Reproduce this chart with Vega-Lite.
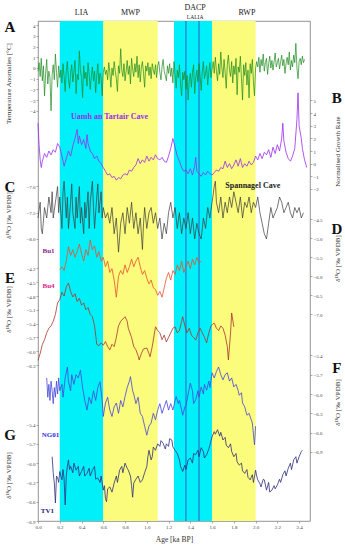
{
"$schema": "https://vega.github.io/schema/vega-lite/v6.json",
"width": 272, "height": 500,
"autosize": "none",
"padding": {"left": 38, "top": 21, "right": 35, "bottom": 29},
"background": "white",
"config": {
 "view": {"stroke": "#777", "strokeWidth": 0.8},
 "axis": {"labelFont": "Liberation Serif", "labelFontSize": 5, "labelColor": "#444", "tickSize": 2, "tickColor": "#777", "tickWidth": 0.6, "domain": false, "grid": false, "titleFont": "Liberation Serif", "titleFontSize": 7, "titleFontWeight": "normal", "titleColor": "#333", "labelPadding": 1, "labelOverlap": false, "labelFlush": false}
},
"datasets": {
 "bands": [{"age": 0.2, "end": 0.6, "c": "#00f0fa"}, {"age": 0.6, "end": 1.1, "c": "#fbfb7c"}, {"age": 1.25, "end": 1.6, "c": "#00f0fa"}, {"age": 1.6, "end": 2.0, "c": "#fbfb7c"}],
 "lalia": [{"age": 1.36}, {"age": 1.48}],
 "headers": [{"age": 0.4, "v": 5.14, "t": "LIA"}, {"age": 0.85, "v": 5.14, "t": "MWP"}, {"age": 1.444, "v": 5.65, "t": "DACP"}, {"age": 1.92, "v": 5.14, "t": "RWP"}],
 "headers2": [{"age": 1.444, "v": 4.77, "t": "LALIA"}],
 "A": [
{"age":0.00,"v":-0.3},{"age":0.01,"v":0.5},{"age":0.02,"v":-0.8},{"age":0.03,"v":0.9},{"age":0.04,"v":-1.2},{"age":0.05,"v":0.2},{"age":0.06,"v":-2.6},{"age":0.07,"v":-0.5},{"age":0.08,"v":0.8},{"age":0.09,"v":-1.5},{"age":0.10,"v":-0.3},{"age":0.11,"v":-0.9},{"age":0.12,"v":-4.0},{"age":0.13,"v":-0.6},{"age":0.14,"v":0.3},{"age":0.15,"v":-1.1},{"age":0.16,"v":1.3},{"age":0.17,"v":-0.4},{"age":0.18,"v":-1.8},{"age":0.19,"v":0.2},{"age":0.20,"v":-0.9},
{"age":0.21,"v":-0.2},{"age":0.22,"v":-1.4},{"age":0.23,"v":0.4},{"age":0.24,"v":-0.8},{"age":0.25,"v":-2.2},{"age":0.26,"v":-0.3},{"age":0.27,"v":0.6},{"age":0.28,"v":-1.0},{"age":0.29,"v":-1.9},{"age":0.30,"v":-0.5},{"age":0.31,"v":0.3},{"age":0.32,"v":-1.3},{"age":0.33,"v":-0.4},{"age":0.34,"v":0.7},{"age":0.35,"v":-2.4},{"age":0.36,"v":-0.6},{"age":0.37,"v":-1.1},{"age":0.38,"v":1.6},{"age":0.39,"v":-0.2},{"age":0.40,"v":-0.9},
{"age":0.41,"v":-2.8},{"age":0.42,"v":0.2},{"age":0.43,"v":-1.0},{"age":0.44,"v":-0.4},{"age":0.45,"v":-1.7},{"age":0.46,"v":0.5},{"age":0.47,"v":-0.6},{"age":0.48,"v":-2.0},{"age":0.49,"v":-0.8},{"age":0.50,"v":0.1},{"age":0.51,"v":-1.2},{"age":0.52,"v":-0.3},{"age":0.53,"v":-2.3},{"age":0.54,"v":-0.7},{"age":0.55,"v":0.4},{"age":0.56,"v":-1.5},{"age":0.57,"v":-0.5},{"age":0.58,"v":-0.9},{"age":0.59,"v":-2.6},{"age":0.60,"v":-0.4},
{"age":0.61,"v":0.1},{"age":0.62,"v":-0.6},{"age":0.63,"v":-0.2},{"age":0.64,"v":-1.1},{"age":0.65,"v":0.5},{"age":0.66,"v":-0.4},{"age":0.67,"v":-1.8},{"age":0.68,"v":0.0},{"age":0.69,"v":-0.7},{"age":0.70,"v":0.6},{"age":0.71,"v":-0.3},{"age":0.72,"v":-1.0},{"age":0.73,"v":-2.2},{"age":0.74,"v":0.2},{"age":0.75,"v":-0.5},{"age":0.76,"v":1.8},{"age":0.77,"v":-0.2},{"age":0.78,"v":-0.8},{"age":0.79,"v":0.4},{"age":0.80,"v":-1.2},
{"age":0.81,"v":-0.3},{"age":0.82,"v":0.7},{"age":0.83,"v":-0.6},{"age":0.84,"v":0.2},{"age":0.85,"v":-1.5},{"age":0.86,"v":0.9},{"age":0.87,"v":-0.1},{"age":0.88,"v":-0.8},{"age":0.89,"v":0.4},{"age":0.90,"v":-0.4},{"age":0.91,"v":1.1},{"age":0.92,"v":-0.9},{"age":0.93,"v":0.3},{"age":0.94,"v":-1.3},{"age":0.95,"v":0.1},{"age":0.96,"v":0.6},{"age":0.97,"v":-0.5},{"age":0.98,"v":-1.8},{"age":0.99,"v":0.2},{"age":1.00,"v":-0.3},
{"age":1.01,"v":0.5},{"age":1.02,"v":-0.7},{"age":1.03,"v":0.1},{"age":1.04,"v":-1.0},{"age":1.05,"v":0.4},{"age":1.06,"v":-0.2},{"age":1.07,"v":-0.6},{"age":1.08,"v":0.3},{"age":1.09,"v":-0.9},{"age":1.10,"v":0.2},{"age":1.11,"v":0.6},{"age":1.12,"v":-0.4},{"age":1.13,"v":-1.1},{"age":1.14,"v":0.1},{"age":1.15,"v":0.8},{"age":1.16,"v":-0.3},{"age":1.17,"v":-0.7},{"age":1.18,"v":-1.2},{"age":1.19,"v":0.2},{"age":1.20,"v":-0.5},
{"age":1.21,"v":0.4},{"age":1.22,"v":-0.8},{"age":1.23,"v":0.0},{"age":1.24,"v":-1.4},{"age":1.25,"v":0.6},{"age":1.26,"v":-0.6},{"age":1.27,"v":-1.9},{"age":1.28,"v":-0.2},{"age":1.29,"v":-0.9},{"age":1.30,"v":0.3},{"age":1.31,"v":-1.5},{"age":1.32,"v":-2.6},{"age":1.33,"v":-0.4},{"age":1.34,"v":-1.1},{"age":1.35,"v":-0.3},{"age":1.36,"v":-2.0},{"age":1.37,"v":-0.7},{"age":1.38,"v":-3.0},{"age":1.39,"v":-1.2},{"age":1.40,"v":-0.5},
{"age":1.41,"v":-1.8},{"age":1.42,"v":-0.4},{"age":1.43,"v":0.3},{"age":1.44,"v":-2.4},{"age":1.45,"v":-0.9},{"age":1.46,"v":-0.2},{"age":1.47,"v":-1.3},{"age":1.48,"v":0.4},{"age":1.49,"v":-0.8},{"age":1.50,"v":-2.1},{"age":1.51,"v":-0.3},{"age":1.52,"v":0.6},{"age":1.53,"v":-1.0},{"age":1.54,"v":-0.5},{"age":1.55,"v":0.2},{"age":1.56,"v":-1.6},{"age":1.57,"v":-0.4},{"age":1.58,"v":0.5},{"age":1.59,"v":-0.9},{"age":1.60,"v":-0.1},
{"age":1.61,"v":0.6},{"age":1.62,"v":-0.5},{"age":1.63,"v":1.0},{"age":1.64,"v":-0.3},{"age":1.65,"v":-1.2},{"age":1.66,"v":0.4},{"age":1.67,"v":-0.6},{"age":1.68,"v":1.5},{"age":1.69,"v":0.0},{"age":1.70,"v":-0.9},{"age":1.71,"v":0.8},{"age":1.72,"v":-0.4},{"age":1.73,"v":-1.9},{"age":1.74,"v":0.3},{"age":1.75,"v":1.2},{"age":1.76,"v":-0.2},{"age":1.77,"v":-0.8},{"age":1.78,"v":0.6},{"age":1.79,"v":-1.4},{"age":1.80,"v":0.2},
{"age":1.81,"v":-0.6},{"age":1.82,"v":0.9},{"age":1.83,"v":-2.5},{"age":1.84,"v":0.1},{"age":1.85,"v":-0.4},{"age":1.86,"v":1.1},{"age":1.87,"v":-1.0},{"age":1.88,"v":-3.0},{"age":1.89,"v":0.3},{"age":1.90,"v":-0.7},{"age":1.91,"v":0.5},{"age":1.92,"v":-1.6},{"age":1.93,"v":-0.2},{"age":1.94,"v":-2.8},{"age":1.95,"v":0.4},{"age":1.96,"v":-0.5},{"age":1.97,"v":0.8},{"age":1.98,"v":-1.3},{"age":1.99,"v":-2.6},{"age":2.00,"v":0.0},
{"age":2.01,"v":0.6},{"age":2.02,"v":0.1},{"age":2.03,"v":1.0},{"age":2.04,"v":-0.4},{"age":2.05,"v":0.8},{"age":2.06,"v":0.2},{"age":2.07,"v":1.3},{"age":2.08,"v":-0.3},{"age":2.09,"v":0.5},{"age":2.10,"v":0.9},{"age":2.11,"v":-0.6},{"age":2.12,"v":0.4},{"age":2.13,"v":1.1},{"age":2.14,"v":0.0},{"age":2.15,"v":0.7},{"age":2.16,"v":-0.2},{"age":2.17,"v":0.6},{"age":2.18,"v":1.4},{"age":2.19,"v":0.1},{"age":2.20,"v":0.5},
{"age":2.21,"v":0.9},{"age":2.22,"v":-0.1},{"age":2.23,"v":0.6},{"age":2.24,"v":1.2},{"age":2.25,"v":0.2},{"age":2.26,"v":0.8},{"age":2.27,"v":-0.5},{"age":2.28,"v":0.4},{"age":2.29,"v":1.0},{"age":2.30,"v":0.3},{"age":2.31,"v":1.5},{"age":2.32,"v":-0.2},{"age":2.33,"v":0.7},{"age":2.34,"v":0.1},{"age":2.35,"v":1.2},{"age":2.36,"v":0.5},{"age":2.37,"v":2.3},{"age":2.38,"v":0.0},{"age":2.39,"v":-1.0},{"age":2.40,"v":0.6},
{"age":2.41,"v":0.9},{"age":2.42,"v":0.3},{"age":2.43,"v":1.1},{"age":2.44,"v":0.5},{"age":2.45,"v":0.8}
 ],
 "B": [
{"age":0.00,"v":3.2},{"age":0.01,"v":1.5},{"age":0.02,"v":0.3},{"age":0.03,"v":-0.3},{"age":0.04,"v":0.2},{"age":0.06,"v":0.8},{"age":0.08,"v":0.5},{"age":0.10,"v":1.0},{"age":0.12,"v":0.7},{"age":0.14,"v":1.1},{"age":0.16,"v":0.9},{"age":0.18,"v":1.6},{"age":0.20,"v":1.3},{"age":0.22,"v":0.6},{"age":0.24,"v":-0.2},{"age":0.26,"v":0.4},{"age":0.28,"v":1.0},{"age":0.30,"v":0.6},{"age":0.32,"v":1.4},{"age":0.34,"v":2.0},{"age":0.36,"v":2.7},{"age":0.37,"v":1.6},{"age":0.38,"v":2.2},{"age":0.40,"v":1.5},{"age":0.42,"v":1.9},{"age":0.44,"v":1.2},{"age":0.45,"v":2.3},{"age":0.46,"v":1.6},{"age":0.48,"v":1.0},{"age":0.50,"v":0.8},{"age":0.52,"v":0.4},{"age":0.54,"v":0.6},{"age":0.56,"v":0.2},{"age":0.58,"v":0.0},{"age":0.60,"v":-0.3},{"age":0.62,"v":-0.6},{"age":0.64,"v":-0.9},{"age":0.66,"v":-0.8},{"age":0.68,"v":-1.1},{"age":0.70,"v":-1.0},{"age":0.72,"v":-1.3},{"age":0.74,"v":-1.1},{"age":0.76,"v":-1.2},{"age":0.78,"v":-0.9},{"age":0.80,"v":-0.8},{"age":0.82,"v":-0.9},{"age":0.84,"v":-0.5},{"age":0.86,"v":-0.6},{"age":0.88,"v":-0.3},{"age":0.90,"v":-0.1},{"age":0.92,"v":0.4},{"age":0.94,"v":0.0},{"age":0.96,"v":0.3},{"age":0.98,"v":0.1},{"age":1.00,"v":0.6},{"age":1.02,"v":0.2},{"age":1.04,"v":0.5},{"age":1.06,"v":0.3},{"age":1.08,"v":0.7},{"age":1.10,"v":0.4},{"age":1.12,"v":0.3},{"age":1.14,"v":0.5},{"age":1.16,"v":0.2},{"age":1.18,"v":0.1},{"age":1.20,"v":0.6},{"age":1.22,"v":1.2},{"age":1.24,"v":2.0},{"age":1.26,"v":1.3},{"age":1.28,"v":0.6},{"age":1.30,"v":0.2},{"age":1.32,"v":-0.3},{"age":1.34,"v":-0.6},{"age":1.36,"v":-0.5},{"age":1.38,"v":-0.8},{"age":1.40,"v":-0.4},{"age":1.42,"v":-0.9},{"age":1.44,"v":-0.2},{"age":1.45,"v":0.5},{"age":1.46,"v":-0.6},{"age":1.48,"v":-0.8},{"age":1.50,"v":-1.0},{"age":1.52,"v":-0.7},{"age":1.54,"v":-0.9},{"age":1.56,"v":-0.6},{"age":1.58,"v":-0.8},{"age":1.60,"v":-0.9},{"age":1.62,"v":-0.7},{"age":1.64,"v":-0.5},{"age":1.66,"v":-0.6},{"age":1.68,"v":-0.3},{"age":1.70,"v":-0.4},{"age":1.72,"v":0.2},{"age":1.74,"v":-0.3},{"age":1.76,"v":0.0},{"age":1.78,"v":-0.4},{"age":1.80,"v":-0.1},{"age":1.82,"v":0.3},{"age":1.84,"v":-0.2},{"age":1.86,"v":0.4},{"age":1.88,"v":-0.3},{"age":1.90,"v":0.0},{"age":1.92,"v":-0.2},{"age":1.94,"v":0.2},{"age":1.96,"v":-0.1},{"age":1.98,"v":0.1},{"age":2.00,"v":0.6},{"age":2.02,"v":0.3},{"age":2.04,"v":0.8},{"age":2.06,"v":0.4},{"age":2.08,"v":0.9},{"age":2.10,"v":0.7},{"age":2.12,"v":1.1},{"age":2.14,"v":0.5},{"age":2.16,"v":1.3},{"age":2.18,"v":0.8},{"age":2.20,"v":1.5},{"age":2.22,"v":1.0},{"age":2.24,"v":2.0},{"age":2.25,"v":3.2},{"age":2.26,"v":1.8},{"age":2.28,"v":0.9},{"age":2.30,"v":0.4},{"age":2.32,"v":0.2},{"age":2.34,"v":0.6},{"age":2.36,"v":1.2},{"age":2.38,"v":3.5},{"age":2.39,"v":5.6},{"age":2.40,"v":3.0},{"age":2.42,"v":2.0},{"age":2.43,"v":1.2},{"age":2.45,"v":0.3},{"age":2.47,"v":-0.3}
 ],
 "C": [
{"age":0.00,"v":-7.6},{"age":0.02,"v":-7.3},{"age":0.03,"v":-7.8},{"age":0.04,"v":-7.9},{"age":0.06,"v":-7.4},{"age":0.08,"v":-7.6},{"age":0.10,"v":-7.2},{"age":0.12,"v":-7.5},{"age":0.13,"v":-7.1},{"age":0.14,"v":-7.6},{"age":0.16,"v":-7.3},{"age":0.18,"v":-7.0},{"age":0.19,"v":-7.5},{"age":0.20,"v":-7.2},{"age":0.22,"v":-7.8},{"age":0.23,"v":-7.1},{"age":0.24,"v":-6.9},{"age":0.26,"v":-7.6},{"age":0.27,"v":-7.2},{"age":0.28,"v":-7.8},{"age":0.30,"v":-7.3},{"age":0.31,"v":-6.95},{"age":0.32,"v":-7.5},{"age":0.34,"v":-7.8},{"age":0.35,"v":-7.2},{"age":0.36,"v":-7.6},{"age":0.38,"v":-7.0},{"age":0.39,"v":-7.7},{"age":0.40,"v":-7.4},{"age":0.42,"v":-7.9},{"age":0.43,"v":-7.3},{"age":0.44,"v":-7.6},{"age":0.46,"v":-7.1},{"age":0.47,"v":-7.8},{"age":0.48,"v":-7.3},{"age":0.50,"v":-6.9},{"age":0.51,"v":-7.4},{"age":0.52,"v":-7.8},{"age":0.54,"v":-7.2},{"age":0.55,"v":-6.95},{"age":0.56,"v":-7.5},{"age":0.58,"v":-7.1},{"age":0.59,"v":-7.6},{"age":0.60,"v":-7.4},{"age":0.62,"v":-7.6},{"age":0.64,"v":-7.5},{"age":0.66,"v":-7.7},{"age":0.68,"v":-7.4},{"age":0.70,"v":-7.9},{"age":0.72,"v":-7.6},{"age":0.74,"v":-8.25},{"age":0.76,"v":-7.7},{"age":0.78,"v":-7.5},{"age":0.80,"v":-7.9},{"age":0.82,"v":-7.4},{"age":0.84,"v":-7.7},{"age":0.86,"v":-7.3},{"age":0.88,"v":-7.8},{"age":0.90,"v":-7.5},{"age":0.92,"v":-7.9},{"age":0.94,"v":-7.6},{"age":0.96,"v":-8.2},{"age":0.97,"v":-7.7},{"age":0.98,"v":-7.4},{"age":1.00,"v":-7.8},{"age":1.02,"v":-7.5},{"age":1.04,"v":-7.4},{"age":1.06,"v":-7.7},{"age":1.08,"v":-7.5},{"age":1.10,"v":-7.8},{"age":1.12,"v":-7.6},{"age":1.14,"v":-8.0},{"age":1.16,"v":-7.7},{"age":1.18,"v":-7.9},{"age":1.20,"v":-7.5},{"age":1.22,"v":-7.3},{"age":1.24,"v":-7.6},{"age":1.26,"v":-7.4},{"age":1.28,"v":-7.8},{"age":1.30,"v":-7.5},{"age":1.32,"v":-7.9},{"age":1.34,"v":-7.6},{"age":1.36,"v":-7.8},{"age":1.38,"v":-7.5},{"age":1.40,"v":-7.9},{"age":1.42,"v":-7.6},{"age":1.44,"v":-8.0},{"age":1.46,"v":-7.7},{"age":1.48,"v":-7.9},{"age":1.50,"v":-8.0},{"age":1.52,"v":-7.6},{"age":1.54,"v":-7.8},{"age":1.56,"v":-7.4},{"age":1.58,"v":-7.6},{"age":1.60,"v":-7.3},{"age":1.62,"v":-7.0},{"age":1.63,"v":-6.9},{"age":1.64,"v":-7.3},{"age":1.66,"v":-7.5},{"age":1.68,"v":-7.2},{"age":1.70,"v":-7.6},{"age":1.72,"v":-7.3},{"age":1.74,"v":-7.5},{"age":1.76,"v":-7.2},{"age":1.78,"v":-7.4},{"age":1.80,"v":-7.1},{"age":1.82,"v":-7.3},{"age":1.84,"v":-7.5},{"age":1.86,"v":-7.2},{"age":1.88,"v":-7.6},{"age":1.90,"v":-7.3},{"age":1.92,"v":-7.4},{"age":1.94,"v":-7.2},{"age":1.96,"v":-7.5},{"age":1.98,"v":-7.3},{"age":2.00,"v":-7.4},{"age":2.02,"v":-7.2},{"age":2.04,"v":-7.5},{"age":2.06,"v":-7.7},{"age":2.08,"v":-7.9},{"age":2.10,"v":-8.0},{"age":2.12,"v":-7.7},{"age":2.14,"v":-7.4},{"age":2.16,"v":-7.6},{"age":2.18,"v":-7.5},{"age":2.20,"v":-7.4},{"age":2.22,"v":-7.2},{"age":2.24,"v":-7.3},{"age":2.26,"v":-7.5},{"age":2.28,"v":-7.4},{"age":2.30,"v":-7.3},{"age":2.32,"v":-7.5},{"age":2.34,"v":-7.6},{"age":2.36,"v":-7.4},{"age":2.38,"v":-7.5},{"age":2.40,"v":-7.4},{"age":2.42,"v":-7.6},{"age":2.44,"v":-7.5}
 ],
 "D": [
{"age":0.20,"v":-5.83},{"age":0.22,"v":-5.75},{"age":0.24,"v":-5.85},{"age":0.26,"v":-5.6},{"age":0.28,"v":-5.22},{"age":0.30,"v":-5.45},{"age":0.32,"v":-5.3},{"age":0.34,"v":-5.5},{"age":0.36,"v":-5.35},{"age":0.38,"v":-5.15},{"age":0.40,"v":-5.4},{"age":0.42,"v":-5.6},{"age":0.44,"v":-5.3},{"age":0.46,"v":-5.45},{"age":0.48,"v":-5.05},{"age":0.50,"v":-5.3},{"age":0.52,"v":-5.2},{"age":0.54,"v":-5.5},{"age":0.56,"v":-5.35},{"age":0.58,"v":-5.6},{"age":0.60,"v":-5.5},{"age":0.62,"v":-5.75},{"age":0.64,"v":-5.6},{"age":0.66,"v":-5.9},{"age":0.68,"v":-5.8},{"age":0.70,"v":-6.1},{"age":0.72,"v":-6.55},{"age":0.74,"v":-6.0},{"age":0.76,"v":-5.85},{"age":0.78,"v":-5.95},{"age":0.80,"v":-5.7},{"age":0.82,"v":-5.9},{"age":0.84,"v":-5.75},{"age":0.86,"v":-5.55},{"age":0.88,"v":-5.75},{"age":0.90,"v":-5.6},{"age":0.92,"v":-5.5},{"age":0.94,"v":-5.75},{"age":0.96,"v":-5.95},{"age":0.98,"v":-5.85},{"age":1.00,"v":-6.05},{"age":1.02,"v":-6.2},{"age":1.04,"v":-6.1},{"age":1.06,"v":-6.3},{"age":1.08,"v":-6.35},{"age":1.10,"v":-6.5},{"age":1.12,"v":-6.4},{"age":1.14,"v":-6.55},{"age":1.16,"v":-6.3},{"age":1.18,"v":-6.05},{"age":1.20,"v":-5.9},{"age":1.22,"v":-6.1},{"age":1.24,"v":-5.85},{"age":1.26,"v":-5.95},{"age":1.28,"v":-5.7},{"age":1.30,"v":-5.85},{"age":1.32,"v":-5.6},{"age":1.34,"v":-5.9},{"age":1.36,"v":-5.75},{"age":1.38,"v":-5.6},{"age":1.40,"v":-5.8},{"age":1.42,"v":-5.55},{"age":1.44,"v":-5.7},{"age":1.46,"v":-5.5},{"age":1.48,"v":-5.65},{"age":1.50,"v":-5.6}
 ],
 "E": [
{"age":0.00,"v":-6.2},{"age":0.02,"v":-6.05},{"age":0.04,"v":-5.85},{"age":0.06,"v":-5.75},{"age":0.08,"v":-5.6},{"age":0.10,"v":-5.5},{"age":0.12,"v":-5.45},{"age":0.14,"v":-5.35},{"age":0.16,"v":-5.2},{"age":0.18,"v":-4.95},{"age":0.20,"v":-4.88},{"age":0.22,"v":-4.72},{"age":0.24,"v":-4.8},{"age":0.26,"v":-4.6},{"age":0.28,"v":-4.52},{"age":0.30,"v":-4.7},{"age":0.32,"v":-4.82},{"age":0.34,"v":-4.75},{"age":0.36,"v":-4.92},{"age":0.38,"v":-4.85},{"age":0.40,"v":-5.0},{"age":0.42,"v":-4.95},{"age":0.44,"v":-5.1},{"age":0.46,"v":-5.05},{"age":0.48,"v":-5.2},{"age":0.50,"v":-5.25},{"age":0.52,"v":-5.45},{"age":0.54,"v":-5.85},{"age":0.56,"v":-5.88},{"age":0.58,"v":-5.82},{"age":0.60,"v":-5.87},{"age":0.62,"v":-5.79},{"age":0.64,"v":-5.9},{"age":0.66,"v":-5.97},{"age":0.68,"v":-5.85},{"age":0.70,"v":-5.9},{"age":0.72,"v":-5.7},{"age":0.74,"v":-5.45},{"age":0.76,"v":-5.35},{"age":0.78,"v":-5.3},{"age":0.80,"v":-5.25},{"age":0.82,"v":-5.35},{"age":0.83,"v":-5.5},{"age":0.86,"v":-5.7},{"age":0.88,"v":-5.9},{"age":0.90,"v":-5.97},{"age":0.92,"v":-6.1},{"age":0.93,"v":-6.19},{"age":0.95,"v":-6.05},{"age":0.97,"v":-5.95},{"age":1.00,"v":-5.93},{"age":1.02,"v":-6.05},{"age":1.03,"v":-6.12},{"age":1.05,"v":-5.9},{"age":1.08,"v":-5.47},{"age":1.10,"v":-5.55},{"age":1.12,"v":-5.6},{"age":1.14,"v":-5.75},{"age":1.16,"v":-5.65},{"age":1.18,"v":-5.8},{"age":1.20,"v":-5.7},{"age":1.22,"v":-5.6},{"age":1.24,"v":-5.5},{"age":1.26,"v":-5.47},{"age":1.28,"v":-5.6},{"age":1.30,"v":-5.55},{"age":1.32,"v":-5.35},{"age":1.33,"v":-5.25},{"age":1.35,"v":-5.45},{"age":1.37,"v":-5.6},{"age":1.39,"v":-5.5},{"age":1.41,"v":-5.65},{"age":1.43,"v":-5.7},{"age":1.45,"v":-5.76},{"age":1.47,"v":-5.6},{"age":1.49,"v":-5.5},{"age":1.51,"v":-5.6},{"age":1.53,"v":-5.7},{"age":1.55,"v":-5.82},{"age":1.57,"v":-5.6},{"age":1.59,"v":-5.45},{"age":1.61,"v":-5.4},{"age":1.62,"v":-5.39},{"age":1.64,"v":-5.5},{"age":1.66,"v":-5.55},{"age":1.68,"v":-5.45},{"age":1.70,"v":-5.5},{"age":1.72,"v":-5.65},{"age":1.74,"v":-5.9},{"age":1.75,"v":-6.19},{"age":1.77,"v":-5.6},{"age":1.78,"v":-5.17},{"age":1.80,"v":-5.47}
 ],
 "F": [
{"age":0.08,"v":-5.75},{"age":0.09,"v":-6.05},{"age":0.10,"v":-5.85},{"age":0.11,"v":-6.1},{"age":0.12,"v":-5.8},{"age":0.13,"v":-5.95},{"age":0.14,"v":-6.15},{"age":0.15,"v":-5.9},{"age":0.16,"v":-6.05},{"age":0.17,"v":-5.8},{"age":0.18,"v":-6.0},{"age":0.19,"v":-5.75},{"age":0.20,"v":-5.95},{"age":0.22,"v":-5.85},{"age":0.23,"v":-6.05},{"age":0.25,"v":-5.75},{"age":0.27,"v":-5.58},{"age":0.28,"v":-5.8},{"age":0.30,"v":-5.95},{"age":0.31,"v":-5.7},{"age":0.33,"v":-5.85},{"age":0.35,"v":-5.7},{"age":0.37,"v":-5.75},{"age":0.39,"v":-5.63},{"age":0.41,"v":-5.9},{"age":0.43,"v":-6.1},{"age":0.45,"v":-6.25},{"age":0.47,"v":-6.05},{"age":0.49,"v":-6.15},{"age":0.51,"v":-5.95},{"age":0.53,"v":-6.1},{"age":0.55,"v":-5.9},{"age":0.57,"v":-5.81},{"age":0.59,"v":-6.1},{"age":0.60,"v":-6.35},{"age":0.62,"v":-6.14},{"age":0.64,"v":-6.05},{"age":0.66,"v":-6.25},{"age":0.68,"v":-6.35},{"age":0.70,"v":-6.2},{"age":0.72,"v":-6.14},{"age":0.74,"v":-6.3},{"age":0.76,"v":-6.1},{"age":0.78,"v":-6.2},{"age":0.80,"v":-6.04},{"age":0.82,"v":-5.9},{"age":0.84,"v":-5.8},{"age":0.85,"v":-5.73},{"age":0.87,"v":-5.95},{"age":0.88,"v":-6.0},{"age":0.90,"v":-6.15},{"age":0.92,"v":-6.05},{"age":0.94,"v":-6.3},{"age":0.96,"v":-6.35},{"age":0.98,"v":-6.5},{"age":1.00,"v":-6.64},{"age":1.02,"v":-6.5},{"age":1.04,"v":-6.45},{"age":1.06,"v":-6.3},{"age":1.08,"v":-6.4},{"age":1.10,"v":-6.25},{"age":1.12,"v":-6.15},{"age":1.14,"v":-6.3},{"age":1.16,"v":-6.2},{"age":1.18,"v":-6.1},{"age":1.20,"v":-6.25},{"age":1.22,"v":-6.15},{"age":1.24,"v":-6.25},{"age":1.26,"v":-6.1},{"age":1.27,"v":-6.04},{"age":1.29,"v":-6.15},{"age":1.30,"v":-6.1},{"age":1.32,"v":-6.25},{"age":1.33,"v":-6.33},{"age":1.35,"v":-6.2},{"age":1.36,"v":-6.18},{"age":1.38,"v":-6.0},{"age":1.40,"v":-5.83},{"age":1.42,"v":-5.95},{"age":1.43,"v":-6.15},{"age":1.45,"v":-6.09},{"age":1.47,"v":-5.95},{"age":1.48,"v":-6.05},{"age":1.50,"v":-5.89},{"age":1.52,"v":-6.0},{"age":1.53,"v":-5.85},{"age":1.55,"v":-5.94},{"age":1.57,"v":-5.8},{"age":1.58,"v":-5.9},{"age":1.60,"v":-5.67},{"age":1.62,"v":-5.75},{"age":1.64,"v":-5.65},{"age":1.66,"v":-5.58},{"age":1.68,"v":-5.7},{"age":1.70,"v":-5.78},{"age":1.72,"v":-5.7},{"age":1.74,"v":-5.67},{"age":1.76,"v":-5.8},{"age":1.78,"v":-5.75},{"age":1.80,"v":-5.89},{"age":1.82,"v":-5.85},{"age":1.84,"v":-5.95},{"age":1.85,"v":-6.02},{"age":1.87,"v":-5.98},{"age":1.88,"v":-6.14},{"age":1.90,"v":-6.2},{"age":1.92,"v":-6.33},{"age":1.94,"v":-6.3},{"age":1.96,"v":-6.4},{"age":1.97,"v":-6.45},{"age":1.98,"v":-6.62},{"age":1.99,"v":-6.79},{"age":2.00,"v":-6.5}
 ],
 "G": [
{"age":0.13,"v":-5.9},{"age":0.14,"v":-6.15},{"age":0.15,"v":-6.31},{"age":0.16,"v":-6.62},{"age":0.17,"v":-6.2},{"age":0.18,"v":-6.23},{"age":0.19,"v":-6.3},{"age":0.20,"v":-6.13},{"age":0.21,"v":-6.2},{"age":0.22,"v":-6.26},{"age":0.23,"v":-6.1},{"age":0.24,"v":-6.25},{"age":0.25,"v":-6.65},{"age":0.26,"v":-6.2},{"age":0.27,"v":-6.05},{"age":0.28,"v":-5.95},{"age":0.29,"v":-6.1},{"age":0.30,"v":-6.05},{"age":0.32,"v":-6.15},{"age":0.33,"v":-6.0},{"age":0.35,"v":-6.11},{"age":0.37,"v":-6.05},{"age":0.38,"v":-6.2},{"age":0.40,"v":-6.13},{"age":0.42,"v":-6.05},{"age":0.43,"v":-6.2},{"age":0.45,"v":-6.16},{"age":0.47,"v":-6.08},{"age":0.48,"v":-6.2},{"age":0.50,"v":-6.11},{"age":0.52,"v":-6.05},{"age":0.53,"v":-6.25},{"age":0.55,"v":-6.23},{"age":0.57,"v":-6.3},{"age":0.58,"v":-6.2},{"age":0.60,"v":-6.42},{"age":0.61,"v":-6.35},{"age":0.62,"v":-6.55},{"age":0.63,"v":-6.6},{"age":0.64,"v":-6.4},{"age":0.66,"v":-6.37},{"age":0.68,"v":-6.45},{"age":0.70,"v":-6.31},{"age":0.72,"v":-6.2},{"age":0.73,"v":-6.3},{"age":0.75,"v":-6.11},{"age":0.77,"v":-6.05},{"age":0.78,"v":-6.15},{"age":0.80,"v":-6.0},{"age":0.82,"v":-6.08},{"age":0.83,"v":-6.11},{"age":0.85,"v":-6.2},{"age":0.86,"v":-6.35},{"age":0.87,"v":-6.53},{"age":0.88,"v":-6.31},{"age":0.90,"v":-6.25},{"age":0.92,"v":-6.2},{"age":0.94,"v":-6.3},{"age":0.96,"v":-6.26},{"age":0.98,"v":-6.15},{"age":1.00,"v":-6.05},{"age":1.01,"v":-5.9},{"age":1.02,"v":-5.8},{"age":1.04,"v":-5.95},{"age":1.05,"v":-5.9},{"age":1.06,"v":-5.75},{"age":1.08,"v":-5.8},{"age":1.10,"v":-5.7},{"age":1.12,"v":-5.74},{"age":1.13,"v":-5.65},{"age":1.15,"v":-5.69},{"age":1.17,"v":-5.78},{"age":1.18,"v":-5.7},{"age":1.20,"v":-5.74},{"age":1.21,"v":-5.62},{"age":1.23,"v":-5.64},{"age":1.24,"v":-5.75},{"age":1.26,"v":-5.8},{"age":1.28,"v":-5.85},{"age":1.30,"v":-5.95},{"age":1.31,"v":-6.05},{"age":1.33,"v":-6.13},{"age":1.35,"v":-6.03},{"age":1.36,"v":-6.1},{"age":1.38,"v":-5.95},{"age":1.40,"v":-5.92},{"age":1.42,"v":-6.0},{"age":1.43,"v":-5.85},{"age":1.45,"v":-5.87},{"age":1.47,"v":-5.8},{"age":1.48,"v":-5.9},{"age":1.50,"v":-5.76},{"age":1.52,"v":-5.82},{"age":1.53,"v":-5.92},{"age":1.55,"v":-5.87},{"age":1.57,"v":-5.78},{"age":1.58,"v":-5.72},{"age":1.60,"v":-5.59},{"age":1.62,"v":-5.51},{"age":1.63,"v":-5.55},{"age":1.65,"v":-5.48},{"age":1.67,"v":-5.58},{"age":1.68,"v":-5.52},{"age":1.70,"v":-5.64},{"age":1.72,"v":-5.6},{"age":1.73,"v":-5.72},{"age":1.75,"v":-5.76},{"age":1.77,"v":-5.7},{"age":1.78,"v":-5.82},{"age":1.80,"v":-5.9},{"age":1.82,"v":-5.85},{"age":1.83,"v":-5.98},{"age":1.85,"v":-6.03},{"age":1.87,"v":-6.0},{"age":1.88,"v":-6.12},{"age":1.90,"v":-6.16},{"age":1.92,"v":-6.1},{"age":1.93,"v":-6.22},{"age":1.95,"v":-6.26},{"age":1.97,"v":-6.18},{"age":1.98,"v":-6.3},{"age":2.00,"v":-6.11},{"age":2.01,"v":-6.2},{"age":2.02,"v":-6.26},{"age":2.04,"v":-6.32},{"age":2.05,"v":-6.37},{"age":2.07,"v":-6.25},{"age":2.08,"v":-6.26},{"age":2.10,"v":-6.42},{"age":2.12,"v":-6.3},{"age":2.13,"v":-6.45},{"age":2.15,"v":-6.42},{"age":2.17,"v":-6.35},{"age":2.18,"v":-6.4},{"age":2.20,"v":-6.34},{"age":2.22,"v":-6.25},{"age":2.23,"v":-6.3},{"age":2.25,"v":-6.18},{"age":2.27,"v":-6.12},{"age":2.28,"v":-6.2},{"age":2.30,"v":-6.08},{"age":2.32,"v":-6.0},{"age":2.33,"v":-6.1},{"age":2.35,"v":-5.95},{"age":2.37,"v":-5.9},{"age":2.38,"v":-6.0},{"age":2.40,"v":-5.9},{"age":2.42,"v":-5.82},{"age":2.43,"v":-5.8}
 ]
},
"encoding": {
 "x": {"field": "age", "type": "quantitative", "scale": {"domain": [0, 2.5], "nice": false, "zero": false},
  "axis": {"values": [0,0.2,0.4,0.6,0.8,1.0,1.2,1.4,1.6,1.8,2.0,2.2,2.4], "format": ".1f", "title": "Age [ka BP]", "titlePadding": 6, "titleFontSize": 7.5}}
},
"layer": [
 {"data": {"name": "bands"}, "mark": {"type": "rect"}, "encoding": {"x2": {"field": "end"}, "color": {"field": "c", "type": "nominal", "scale": null}}},
 {"data": {"name": "lalia"}, "mark": {"type": "rule", "color": "#2f5fc4", "strokeWidth": 1}, "encoding": {}},
 {"data": {"name": "A"},
  "encoding": {"y": {"field": "v", "type": "quantitative", "scale": {"domain": [-42.34, 4.39], "nice": false, "zero": false},
   "axis": {"orient": "left", "values": [-4,-3,-2,-1,0,1,2,3,4], "format": "d", "title": "Temperature Anomalies [°C]", "titleX": -30, "titleY": 62, "titleAngle": 270, "titleAlign": "center", "titleBaseline": "middle"}}},
  "layer": [
   {"mark": {"type": "line", "color": "#1d8a1d", "strokeWidth": 0.7}},
   {"data": {"name": "headers"}, "mark": {"type": "text", "font": "Liberation Serif", "fontSize": 8, "color": "#222"}, "encoding": {"text": {"field": "t"}}},
   {"data": {"name": "headers2"}, "mark": {"type": "text", "font": "Liberation Serif", "fontSize": 5.5, "color": "#222"}, "encoding": {"text": {"field": "t"}}},
   {"data": {"values": [{"age": -0.2575, "v": 3.83, "t": "A"}]}, "mark": {"type": "text", "font": "Liberation Serif", "fontSize": 15, "fontWeight": "bold", "color": "#111"}, "encoding": {"text": {"field": "t"}}}
  ]},
 {"data": {"name": "B"},
  "encoding": {"y": {"field": "v", "type": "quantitative", "scale": {"domain": [-28.25, 11.28], "nice": false, "zero": false},
   "axis": {"orient": "right", "values": [-2,-1,0,1,2,3,4,5], "format": "d", "title": "Normalised Growth Rate", "titleX": 27, "titleY": 130, "titleAngle": 270, "titleAlign": "center", "titleBaseline": "middle"}}},
  "layer": [
   {"mark": {"type": "line", "color": "#9a2cf0", "strokeWidth": 0.8}},
   {"data": {"values": [{"age": 0.657, "v": 3.72, "t": "Uamh an Tartair Cave"}]}, "mark": {"type": "text", "font": "Liberation Serif", "fontSize": 8, "fontWeight": "bold", "color": "#9a2cf0"}, "encoding": {"text": {"field": "t"}}},
   {"data": {"values": [{"age": 2.747, "v": 5.19, "t": "B"}]}, "mark": {"type": "text", "font": "Liberation Serif", "fontSize": 15, "fontWeight": "bold", "color": "#111"}, "encoding": {"text": {"field": "t"}}}
  ]},
 {"data": {"name": "C"},
  "encoding": {"y": {"field": "v", "type": "quantitative", "scale": {"domain": [-13.371, -3.848], "nice": false, "zero": false},
   "axis": {"orient": "left", "values": [-8,-7.5,-7], "format": ".1f", "title": "δ¹⁸O [‰ VPDB]", "titleX": -30, "titleY": 194, "titleAngle": 270, "titleAlign": "center", "titleBaseline": "middle"}}},
  "layer": [
   {"mark": {"type": "line", "color": "#3a3a3a", "strokeWidth": 0.7}},
   {"data": {"values": [{"age": 1.974, "v": -7.0, "t": "Spannagel Cave"}]}, "mark": {"type": "text", "font": "Liberation Serif", "fontSize": 8, "fontWeight": "bold", "color": "#222"}, "encoding": {"text": {"field": "t"}}},
   {"data": {"values": [{"age": -0.2575, "v": -7.01, "t": "C"}]}, "mark": {"type": "text", "font": "Liberation Serif", "fontSize": 15, "fontWeight": "bold", "color": "#111"}, "encoding": {"text": {"field": "t"}}}
  ]},
 {"data": {"name": "D"},
  "encoding": {"y": {"field": "v", "type": "quantitative", "scale": {"domain": [-12.44, 0.718], "nice": false, "zero": false},
   "axis": {"orient": "right", "values": [-7,-6.5,-6,-5.5,-5,-4.5], "format": ".1f", "title": "δ¹⁸O [‰ VPDB]", "titleX": 27, "titleY": 237, "titleAngle": 270, "titleAlign": "center", "titleBaseline": "middle"}}},
  "layer": [
   {"mark": {"type": "line", "color": "#e8502c", "strokeWidth": 0.8}},
   {"data": {"values": [{"age": 0.097, "v": -5.334, "t": "Bu1"}]}, "mark": {"type": "text", "font": "Liberation Serif", "fontSize": 7, "fontWeight": "bold", "color": "#8e1c8e"}, "encoding": {"text": {"field": "t"}}},
   {"data": {"values": [{"age": 2.747, "v": -4.763, "t": "D"}]}, "mark": {"type": "text", "font": "Liberation Serif", "fontSize": 15, "fontWeight": "bold", "color": "#111"}, "encoding": {"text": {"field": "t"}}}
  ]},
 {"data": {"name": "E"},
  "encoding": {"y": {"field": "v", "type": "quantitative", "scale": {"domain": [-9.691, 1.178], "nice": false, "zero": false},
   "axis": {"orient": "left", "values": [-6.3,-6,-5.7,-5.4,-5.1,-4.8,-4.5,-4.2], "format": ".1f", "title": "δ¹⁸O [‰ VPDB]", "titleX": -30, "titleY": 288, "titleAngle": 270, "titleAlign": "center", "titleBaseline": "middle"}}},
  "layer": [
   {"mark": {"type": "line", "color": "#a8352c", "strokeWidth": 0.8}},
   {"data": {"values": [{"age": 0.097, "v": -4.583, "t": "Bu4"}]}, "mark": {"type": "text", "font": "Liberation Serif", "fontSize": 7, "fontWeight": "bold", "color": "#e0208a"}, "encoding": {"text": {"field": "t"}}},
   {"data": {"values": [{"age": -0.2575, "v": -4.415, "t": "E"}]}, "mark": {"type": "text", "font": "Liberation Serif", "fontSize": 15, "fontWeight": "bold", "color": "#111"}, "encoding": {"text": {"field": "t"}}}
  ]},
 {"data": {"name": "F"},
  "encoding": {"y": {"field": "v", "type": "quantitative", "scale": {"domain": [-7.975, -0.199], "nice": false, "zero": false},
   "axis": {"orient": "right", "values": [-6.9,-6.6,-6.3,-6,-5.7,-5.4], "format": ".1f", "title": "δ¹⁸O [‰ VPDB]", "titleX": 27, "titleY": 381, "titleAngle": 270, "titleAlign": "center", "titleBaseline": "middle"}}},
  "layer": [
   {"mark": {"type": "line", "color": "#4646d8", "strokeWidth": 0.8}},
   {"data": {"values": [{"age": 0.115, "v": -6.638, "t": "NG01"}]}, "mark": {"type": "text", "font": "Liberation Serif", "fontSize": 7, "fontWeight": "bold", "color": "#2a2ae0"}, "encoding": {"text": {"field": "t"}}},
   {"data": {"values": [{"age": 2.747, "v": -5.60, "t": "F"}]}, "mark": {"type": "text", "font": "Liberation Serif", "fontSize": 15, "fontWeight": "bold", "color": "#111"}, "encoding": {"text": {"field": "t"}}}
  ]},
 {"data": {"name": "G"},
  "encoding": {"y": {"field": "v", "type": "quantitative", "scale": {"domain": [-6.9, 0.876], "nice": false, "zero": false},
   "axis": {"orient": "left", "values": [-6.9,-6.6,-6.3,-6,-5.7,-5.4], "format": ".1f", "title": "δ¹⁸O [‰ VPDB]", "titleX": -30, "titleY": 454, "titleAngle": 270, "titleAlign": "center", "titleBaseline": "middle"}}},
  "layer": [
   {"mark": {"type": "line", "color": "#2e2e7e", "strokeWidth": 0.8}},
   {"data": {"values": [{"age": 0.087, "v": -6.74, "t": "TV1"}]}, "mark": {"type": "text", "font": "Liberation Serif", "fontSize": 7, "fontWeight": "bold", "color": "#1c1c7a"}, "encoding": {"text": {"field": "t"}}},
   {"data": {"values": [{"age": -0.2575, "v": -5.563, "t": "G"}]}, "mark": {"type": "text", "font": "Liberation Serif", "fontSize": 15, "fontWeight": "bold", "color": "#111"}, "encoding": {"text": {"field": "t"}}}
  ]}
],
"resolve": {"scale": {"y": "independent"}, "axis": {"y": "independent"}}
}
